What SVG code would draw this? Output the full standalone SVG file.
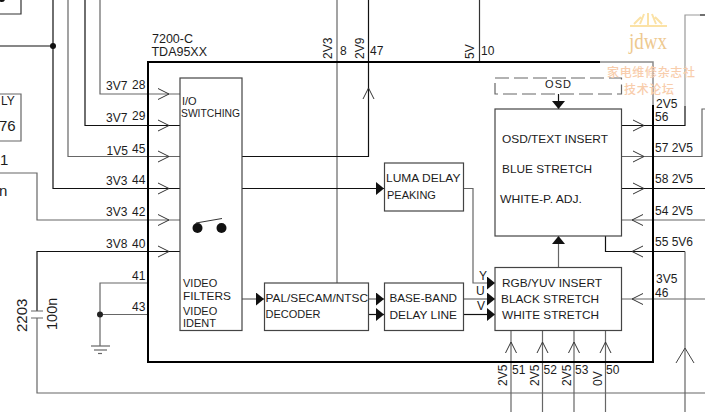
<svg xmlns="http://www.w3.org/2000/svg" width="705" height="412" viewBox="0 0 705 412">
<defs>
<marker id="fill" markerUnits="userSpaceOnUse" markerWidth="10" markerHeight="14" refX="8" refY="6.5" orient="auto"><path d="M0 0L8 6.5L0 13Z" fill="#111"/></marker>
<path id="chev" d="M-11 -5.5L0 0L-11 5.5" fill="none" stroke="#333" stroke-width="1"/>
</defs>
<style>
text{font-family:"Liberation Sans",Arial,sans-serif;font-size:12px;fill:#1c1c1c}
.s{font-size:11px}
.l{fill:none;stroke:#333;stroke-width:1.2}
.k{fill:none;stroke:#111;stroke-width:1.2}
.g{fill:none;stroke:#666;stroke-width:1.2}
.b{fill:#fff;stroke:#444;stroke-width:1.2}
.wm{fill:#f8cdac;font-family:"Noto Sans CJK SC",sans-serif;font-size:12px;font-weight:500}
</style>
<rect width="705" height="412" fill="#fff"/>
<g id="connectors">
<path class="g" d="M100 0V94H180"/>
<path class="k" d="M85 0V125.500H180"/>
<path class="g" d="M68 0V156.500H180"/>
<path class="k" d="M53 0V188.500H180M0 46H53"/>
<path class="g" d="M0 173H37V220H180"/>
<path class="k" d="M180 251.500H37V311"/>
<path class="g" d="M37 318V393H705"/>
<path class="g" d="M31 311H43M31 318H43" stroke-width="1.500"/>
<path class="g" d="M148 283H100V346M148 314.500H100"/>
<path class="g" d="M91 346H110"/><path class="g" d="M94 350H107"/><path class="g" d="M98 353.500H102"/>
<path class="g" d="M337 0V283"/>
<path class="k" d="M242 156.500H368.500V0"/>
<path class="l" d="M479.500 0V62"/>
<path class="k" d="M242 188.500H384" marker-end="url(#fill)"/>
<path class="g" d="M242 299H264" marker-end="url(#fill)"/>
<path class="g" d="M368.500 299H384" marker-end="url(#fill)"/>
<path class="k" d="M368.500 314.500H384" marker-end="url(#fill)"/>
<path class="g" d="M463.500 188.500H473V283H495" marker-end="url(#fill)"/>
<path class="g" d="M463.500 299H495" marker-end="url(#fill)"/>
<path class="k" d="M463.500 314.500H495" marker-end="url(#fill)"/>
<path class="k" d="M558.500 94V109" marker-end="url(#fill)"/>
<path class="g" d="M558.500 267.500V236" marker-end="url(#fill)"/>
<path class="k" d="M621.500 125.500H685V106"/>
<path d="M685 106V15H700" fill="none" stroke="#999" stroke-width="1.200"/>
<path class="k" d="M700 15H705"/>
<path class="g" d="M621.500 156.500H702V109H705"/>
<path class="k" d="M621.500 188.500H705"/>
<path class="g" d="M705 220H621.500"/>
<path class="k" d="M605.500 236V251.500H685"/>
<path class="g" d="M685 251.500V412M705 299H621.500"/>
<path class="g" d="M511 330.500V412M542.500 330.500V412M574 330.500V412M605.500 330.500V412"/>
<path class="l" d="M0 14H21V0"/>
<path class="g" d="M0 94H21V141H0"/>
<circle cx="53" cy="46" r="3" fill="#111"/>
<circle cx="100" cy="314.500" r="3" fill="#222"/>
<circle cx="2" cy="-1" r="3" fill="#111"/>
<use href="#chev" x="169" y="94"/><use href="#chev" x="169" y="125.500"/><use href="#chev" x="169" y="156.500"/><use href="#chev" x="169" y="188.500"/><use href="#chev" x="169" y="220"/><use href="#chev" x="169" y="251.500"/>
<use href="#chev" x="644" y="125.500"/><use href="#chev" x="644" y="156.500"/><use href="#chev" x="644" y="188.500"/>
<use href="#chev" transform="translate(632 220) rotate(180)"/><use href="#chev" transform="translate(632 251.500) rotate(180)"/><use href="#chev" transform="translate(632 299) rotate(180)"/>
<use href="#chev" transform="translate(368.500 88) rotate(-90)"/>
<use href="#chev" transform="translate(511 342) rotate(-90)"/><use href="#chev" transform="translate(542.500 342) rotate(-90)"/><use href="#chev" transform="translate(574 342) rotate(-90)"/><use href="#chev" transform="translate(605.500 342) rotate(-90)"/>
<path d="M676 363L685 348L694 363" fill="none" stroke="#444"/>
</g>
<g id="chip">
<path d="M600 62H148V362H653V105" fill="none" stroke="#000" stroke-width="2"/>
<path d="M600 62H653V105" fill="none" stroke="#8a8a8a" stroke-width="1.500"/>
<text x="152" y="43" textLength="41" lengthAdjust="spacingAndGlyphs">7200-C</text>
<text x="151.500" y="56" textLength="55.500" lengthAdjust="spacingAndGlyphs">TDA95XX</text>
</g>
<g id="pin-labels">
<text x="106" y="90">3V7</text><text x="132" y="89">28</text>
<text x="106" y="122">3V7</text><text x="132" y="120">29</text>
<text x="106.500" y="155">1V5</text><text x="132" y="153">45</text>
<text x="106" y="185">3V3</text><text x="132" y="184">44</text>
<text x="106" y="216">3V3</text><text x="132" y="216">42</text>
<text x="106" y="248">3V8</text><text x="132" y="248">40</text>
<text x="132" y="280">41</text><text x="132" y="311">43</text>
<text transform="translate(332 59) rotate(-90)">2V3</text><text x="340" y="55">8</text>
<text transform="translate(364 59) rotate(-90)">2V9</text><text x="370" y="55">47</text>
<text transform="translate(474 59) rotate(-90)">5V</text><text x="481" y="55">10</text>
<text x="656" y="107.500">2V5</text><text x="655" y="121">56</text>
<text x="655" y="152">57 2V5</text><text x="655" y="183">58 2V5</text>
<text x="655" y="215">54 2V5</text><text x="655" y="246">55 5V6</text>
<text x="656" y="283">3V5</text><text x="655" y="296.500">46</text>
<text transform="translate(507 386) rotate(-90)">2V5</text><text x="512" y="374">51</text>
<text transform="translate(539 386) rotate(-90)">2V5</text><text x="543.500" y="374">52</text>
<text transform="translate(571 386) rotate(-90)">2V5</text><text x="575" y="374">53</text>
<text transform="translate(602 386) rotate(-90)">0V</text><text x="606" y="374">50</text>
<text x="479" y="280">Y</text><text x="476" y="295">U</text><text x="477" y="310">V</text>
<text transform="translate(27 332) rotate(-90)" style="font-size:15px">2203</text>
<text transform="translate(57 330) rotate(-90)" style="font-size:14.500px">100n</text>
<text x="1" y="105">LY</text><text x="-1" y="131" style="font-size:15px">76</text>
<text x="0" y="165" style="font-size:15px">1</text><text x="-1" y="196" style="font-size:15px">n</text>
</g>
<g id="io-switching">
<rect class="b" x="180" y="78" width="62" height="252.500"/>
<text class="s" x="182" y="105">I/O</text>
<text class="s" x="181" y="117" textLength="59" lengthAdjust="spacingAndGlyphs">SWITCHING</text>
<text class="s" x="183" y="287">VIDEO</text>
<text class="s" x="183" y="300" textLength="48" lengthAdjust="spacingAndGlyphs">FILTERS</text>
<text class="s" x="183" y="315">VIDEO</text>
<text class="s" x="183" y="327">IDENT</text>
<circle cx="197.500" cy="228" r="5" fill="#111"/><circle cx="221.500" cy="228" r="5" fill="#111"/>
<path d="M196 223L222 218.500" stroke="#333" fill="none"/>
</g>
<g id="luma">
<rect class="b" x="384.500" y="163" width="79" height="48"/>
<text class="s" x="386" y="182" textLength="74.500" lengthAdjust="spacingAndGlyphs">LUMA DELAY</text>
<text class="s" x="387" y="199">PEAKING</text>
</g>
<g id="decoder">
<rect class="b" x="264.500" y="283" width="104" height="47.500"/>
<text class="s" x="265.500" y="301.700" textLength="102.500" lengthAdjust="spacingAndGlyphs">PAL/SECAM/NTSC</text>
<text class="s" x="265.500" y="317.700">DECODER</text>
</g>
<g id="delay">
<rect class="b" x="384.500" y="283" width="79" height="47.500"/>
<text class="s" x="389.500" y="302" textLength="67.500" lengthAdjust="spacingAndGlyphs">BASE-BAND</text>
<text class="s" x="389.500" y="319" textLength="67.500" lengthAdjust="spacingAndGlyphs">DELAY LINE</text>
</g>
<g id="osd">
<rect x="495" y="78" width="126.500" height="16" fill="#fff" stroke="#666" stroke-width="1.200" stroke-dasharray="14 5"/>
<text class="s" x="545" y="88" textLength="26">OSD</text>
</g>
<g id="osd-insert">
<rect class="b" x="495" y="109" width="126.500" height="127"/>
<text class="s" x="502" y="143" textLength="106" lengthAdjust="spacingAndGlyphs">OSD/TEXT INSERT</text>
<text class="s" x="502" y="173" textLength="90" lengthAdjust="spacingAndGlyphs">BLUE STRETCH</text>
<text class="s" x="500" y="203" textLength="82" lengthAdjust="spacingAndGlyphs">WHITE-P. ADJ.</text>
</g>
<g id="rgb-insert">
<rect class="b" x="495" y="267.500" width="126.500" height="63"/>
<text class="s" x="502" y="287" textLength="100" lengthAdjust="spacingAndGlyphs">RGB/YUV INSERT</text>
<text class="s" x="501" y="303" textLength="98" lengthAdjust="spacingAndGlyphs">BLACK STRETCH</text>
<text class="s" x="502" y="319" textLength="97" lengthAdjust="spacingAndGlyphs">WHITE STRETCH</text>
</g>
<g id="watermark">
<path d="M630 26H667M634 24L641 17M640 24L644 14M648 25V13M656 24L652 14M662 24L655 17" fill="none" stroke="#fbe2a6" stroke-width="2"/>
<text x="629" y="49" textLength="38" lengthAdjust="spacingAndGlyphs" style="font-family:'Liberation Serif',serif;font-size:24px;fill:#eec98f">jdwx</text>
<text class="wm" x="607" y="77" textLength="88">家电维修杂志社</text>
<text class="wm" x="624" y="93.500" textLength="50">技术论坛</text>
</g>
</svg>
